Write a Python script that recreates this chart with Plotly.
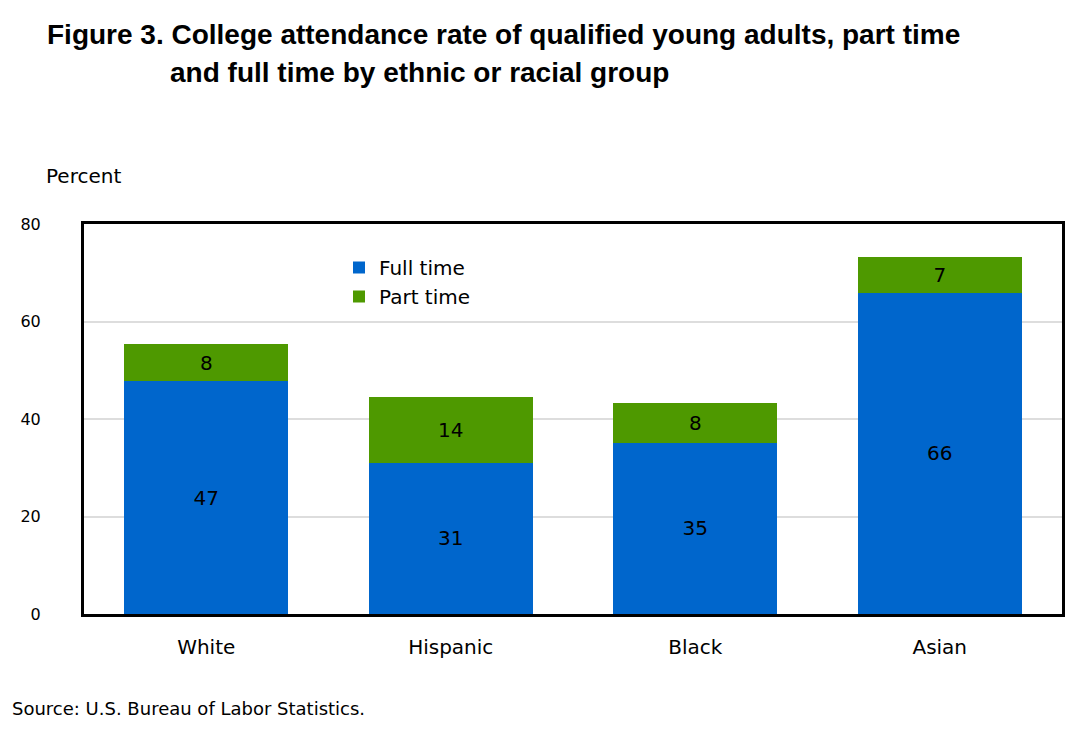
import plotly.graph_objects as go

categories = ["White", "Hispanic", "Black", "Asian"]
full_time = [47.7, 31.0, 35.1, 65.9]
part_time = [7.6, 13.5, 8.2, 7.4]
full_labels = ["47", "31", "35", "66"]
part_labels = ["8", "14", "8", "7"]
y_ticks = [0, 20, 40, 60, 80]

TITLE_FONT = "Liberation Sans, Arial, sans-serif"
BODY = "DejaVu Sans, Verdana, sans-serif"

# plot area in page pixels (used to place annotations)
PL, PR, PT, PB = 84, 1062, 224, 614
PW, PH = PR - PL, PB - PT

fig = go.Figure()
fig.add_trace(go.Bar(
    x=categories, y=full_time, name="Full time",
    marker=dict(color="#0066CC", line=dict(width=0)),
    text=full_labels, textposition="inside", insidetextanchor="middle",
    textfont=dict(color="black", size=20, family=BODY),
))
fig.add_trace(go.Bar(
    x=categories, y=part_time, name="Part time",
    marker=dict(color="#4E9900", line=dict(width=0)),
    text=part_labels, textposition="inside", insidetextanchor="middle",
    textfont=dict(color="black", size=20, family=BODY),
))

fig.update_layout(
    barmode="stack",
    bargap=0.33,
    width=1080, height=731,
    paper_bgcolor="white", plot_bgcolor="white",
    margin=dict(l=76, r=26, t=216, b=125, autoexpand=False),
    showlegend=True,
    legend=dict(x=(339 - PL) / PW, y=(PB - 248) / PH, xanchor="left", yanchor="top",
                bgcolor="rgba(0,0,0,0)", traceorder="normal",
                font=dict(size=20, family=BODY, color="black"),
                itemwidth=30, tracegroupgap=0),
    uniformtext=dict(minsize=20, mode="show"),
)
fig.update_xaxes(
    showline=True, linecolor="black", linewidth=3, mirror=True,
    ticks="", tickfont=dict(size=20, family=BODY, color="black"),
    ticklabelstandoff=13, automargin=False,
)
fig.update_yaxes(
    range=[0, 80], tickvals=y_ticks, ticktext=[str(v) for v in y_ticks],
    showline=True, linecolor="black", linewidth=3, mirror=True,
    showgrid=True, gridcolor="#DDDDDD", gridwidth=2,
    ticks="", tickfont=dict(size=16, family=BODY, color="black"),
    ticklabelstandoff=37, zeroline=False, automargin=False,
)

fig.add_annotation(
    text="<b>Figure 3. College attendance rate of qualified young adults, part time</b>",
    xref="paper", yref="paper", x=(45 - PL) / PW, y=(PB - 17) / PH,
    xanchor="left", yanchor="top", showarrow=False,
    font=dict(size=28, family=TITLE_FONT, color="black"),
)
fig.add_annotation(
    text="<b>and full time by ethnic or racial group</b>",
    xref="paper", yref="paper", x=(168 - PL) / PW, y=(PB - 55) / PH,
    xanchor="left", yanchor="top", showarrow=False,
    font=dict(size=28, family=TITLE_FONT, color="black"),
)
fig.add_annotation(
    text="Percent",
    xref="paper", yref="paper", x=(44 - PL) / PW, y=(PB - 162) / PH,
    xanchor="left", yanchor="top", showarrow=False,
    font=dict(size=20, family=BODY, color="black"),
)
fig.add_annotation(
    text="Source: U.S. Bureau of Labor Statistics.",
    xref="paper", yref="paper", x=(10 - PL) / PW, y=(PB - 696) / PH,
    xanchor="left", yanchor="top", showarrow=False,
    font=dict(size=18, family=BODY, color="black"),
)

fig.write_html("out.html")
